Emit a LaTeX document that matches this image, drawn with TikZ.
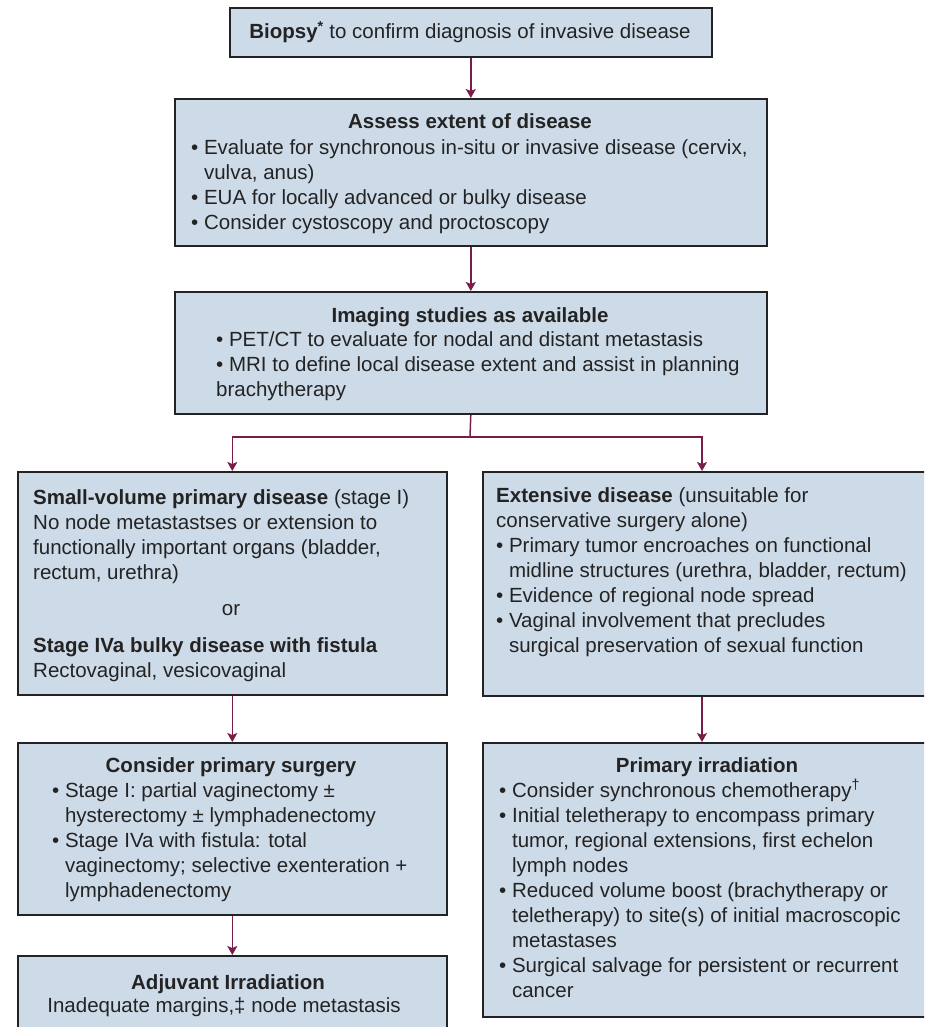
\documentclass[tikz,border=0pt]{standalone}
\usepackage{fontspec}
\setmainfont{Liberation Sans}
\usetikzlibrary{arrows.meta,calc}
\definecolor{boxfill}{RGB}{205,218,232}
\definecolor{boxline}{RGB}{35,35,35}
\definecolor{arrowc}{RGB}{122,28,72}
\definecolor{textc}{RGB}{35,35,35}
\newcommand{\bl}{\textbullet\ }
\newcommand{\ind}{\hphantom{\textbullet\ }}
\newcommand{\fl}{\rule{0pt}{22pt}}
\begin{document}
\begin{tikzpicture}[x=1pt,y=-1pt,
  box/.style={draw=boxline, fill=boxfill, line width=1.6pt, inner sep=0pt, anchor=north west},
  txt/.style={inner sep=0pt, anchor=north west, align=left, font=\fontsize{20.5}{25}\selectfont, text=textc},
  line/.style={inner sep=0pt, anchor=base, font=\fontsize{20.5}{25}\selectfont, text=textc},
  ttl/.style={inner sep=0pt, anchor=base, font=\fontsize{20.5}{25}\selectfont\bfseries, text=textc},
  conn/.style={draw=arrowc, line width=1.5pt, -{Stealth[length=9pt,width=10pt,inset=2pt]}},
  link/.style={draw=arrowc, line width=1.5pt}]
\useasboundingbox (0,0) rectangle (924,1027);
\clip (0,0) rectangle (924,1027);

% boxes
\node[box, minimum width=482pt, minimum height=49pt] (biopsy) at (229,7) {};
\node[box, minimum width=592pt, minimum height=147pt] (assess) at (174,98) {};
\node[box, minimum width=592pt, minimum height=122pt] (imaging) at (174,291) {};
\node[box, minimum width=429pt, minimum height=223pt] (small) at (17,471) {};
\node[box, minimum width=450pt, minimum height=224pt] (extensive) at (482,471) {};
\node[box, minimum width=429pt, minimum height=172pt] (surgery) at (17,742) {};
\node[box, minimum width=450pt, minimum height=274pt] (primary) at (482,742) {};
\node[box, minimum width=429pt, minimum height=100pt] (adjuvant) at (17,955) {};

% texts
\node[line] (t0) at (470,39) {\textbf{Biopsy}\textsuperscript{\textbf{*}} to confirm diagnosis of invasive disease};

\node[ttl] (a0) at (470,129) {Assess extent of disease};
\node[txt] (a1) at (191,132) {\fl\bl Evaluate for synchronous in-situ or invasive disease (cervix,\\
\ind vulva, anus)\\
\bl EUA for locally advanced or bulky disease\\
\bl Consider cystoscopy and proctoscopy};

\node[ttl] (i0) at (470,322) {Imaging studies as available};
\node[txt] (i1) at (216,324) {\fl\bl PET/CT to evaluate for nodal and distant metastasis\\
\bl MRI to define local disease extent and assist in planning\\
brachytherapy};

\node[txt] (s1) at (33,482) {\fl\textbf{Small-volume primary disease} (stage I)\\
No node metastastses or extension to\\
functionally important organs (bladder,\\
rectum, urethra)};
\node[line] (s2) at (231,615) {or};
\node[txt] (s3) at (33,630) {\fl\textbf{Stage IVa bulky disease with fistula}\\
Rectovaginal, vesicovaginal};

\node[txt] (e1) at (496,480) {\fl\textbf{Extensive disease} (unsuitable for\\
conservative surgery alone)\\
\bl Primary tumor encroaches on functional\\
\ind midline structures (urethra, bladder, rectum)\\
\bl Evidence of regional node spread\\
\bl Vaginal involvement that precludes\\
\ind surgical preservation of sexual function};

\node[ttl] (c0) at (231,772) {Consider primary surgery};
\node[txt] (c1) at (52,775) {\fl\bl Stage I: partial vaginectomy ±\\
\ind hysterectomy ± lymphadenectomy\\
\bl Stage IVa with fistula: total\\
\ind vaginectomy; selective exenteration +\\
\ind lymphadenectomy};

\node[ttl] (p0) at (707,772) {Primary irradiation};
\node[txt] (p1) at (499,775) {\fl\bl Consider synchronous chemotherapy\textsuperscript{†}\\
\bl Initial teletherapy to encompass primary\\
\ind tumor, regional extensions, first echelon\\
\ind lymph nodes\\
\bl Reduced volume boost (brachytherapy or\\
\ind teletherapy) to site(s) of initial macroscopic\\
\ind metastases\\
\bl Surgical salvage for persistent or recurrent\\
\ind cancer};

\node[ttl] (j0) at (228,989) {Adjuvant Irradiation};
\node[line] (j1) at (224,1012) {Inadequate margins,‡ node metastasis};

% connectors
\coordinate (split) at (470,437);
\coordinate (rcol) at (702,0);
\draw[conn] (biopsy.south) -- (assess.north);
\draw[conn] (assess.south) -- (imaging.north);
\draw[link] (imaging.south) -- (split);
\draw[conn] (split) -| (small.north);
\draw[conn] (split) -| (rcol |- extensive.north);
\draw[conn] (small.south) -- (surgery.north);
\draw[conn] (surgery.south) -- (adjuvant.north);
\draw[conn] (rcol |- extensive.south) -- (rcol |- primary.north);
\end{tikzpicture}
\end{document}
